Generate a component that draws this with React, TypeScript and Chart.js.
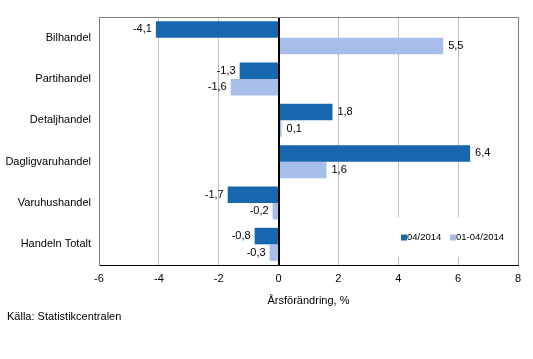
import React, { useEffect, useRef } from "react";
import { Chart, registerables } from "chart.js";

Chart.register(...registerables);

const categories = ["Bilhandel", "Partihandel", "Detaljhandel", "Dagligvaruhandel", "Varuhushandel", "Handeln Totalt"];
const seriesMonth = [-4.1, -1.3, 1.8, 6.4, -1.7, -0.8];
const seriesYtd = [5.5, -1.6, 0.1, 1.6, -0.2, -0.3];
const seriesNames = ["04/2014", "01-04/2014"];
const axisTitle = "Årsförändring, %";
const sourceText = "Källa: Statistikcentralen";

const COLORS = ["#1767af", "#a7bdea"];
const FONT = "'Liberation Sans', Arial, sans-serif";

export default function App() {
  const ref = useRef<HTMLCanvasElement>(null);
  useEffect(() => {
    document.body.style.margin = "0";
    const canvas = ref.current!;
    const extras = {
      id: "extras",
      afterDatasetsDraw(chart: any) {
        const ctx = chart.ctx;
        const area = chart.chartArea;
        const xs = chart.scales.x;
        ctx.save();
        // zero line
        const x0 = Math.round(xs.getPixelForValue(0)) + 0.5;
        ctx.strokeStyle = "#000";
        ctx.lineWidth = 1;
        ctx.beginPath();
        ctx.moveTo(x0, area.top);
        ctx.lineTo(x0, area.bottom);
        ctx.stroke();
        // top border
        ctx.strokeStyle = "#808080";
        ctx.beginPath();
        ctx.moveTo(area.left, area.top + 0.5);
        ctx.lineTo(area.right, area.top + 0.5);
        ctx.stroke();
        // labels
        ctx.font = "11px " + FONT;
        ctx.fillStyle = "#000";
        ctx.textBaseline = "middle";
        chart.data.datasets.forEach((ds: any, di: number) => {
          const meta = chart.getDatasetMeta(di);
          meta.data.forEach((el: any, i: number) => {
            const v = ds.data[i];
            const txt = String(v).replace(".", ",");
            if (v >= 0) {
              ctx.textAlign = "left";
              ctx.fillText(txt, el.x + 5, el.y);
            } else {
              ctx.textAlign = "right";
              ctx.fillText(txt, el.x - 4, el.y);
            }
          });
        });
        // axis title and source
        ctx.textAlign = "center";
        ctx.fillText(axisTitle, (area.left + area.right) / 2, 301);
        ctx.textAlign = "left";
        ctx.fillText(sourceText, 7, 317);
        // legend
        const lx = area.right - 123;
        const ly = area.bottom - 48;
        ctx.fillStyle = "#fff";
        ctx.fillRect(lx, ly, 115, 40);
        const cy = ly + 20.5;
        ctx.font = "9.5px " + FONT;
        ctx.textAlign = "left";
        const items = [
          { x: lx + 6, c: COLORS[0], t: seriesNames[0] },
          { x: lx + 55, c: COLORS[1], t: seriesNames[1] },
        ];
        items.forEach((it) => {
          ctx.fillStyle = it.c;
          ctx.fillRect(it.x, cy - 3, 6, 6);
          ctx.fillStyle = "#000";
          ctx.fillText(it.t, it.x + 6, cy);
        });
        ctx.restore();
      },
    };
    const chart = new Chart(canvas, {
      type: "bar",
      data: {
        labels: categories,
        datasets: [
          { label: seriesNames[0], data: seriesMonth, backgroundColor: COLORS[0], categoryPercentage: 0.8, barPercentage: 1.0 },
          { label: seriesNames[1], data: seriesYtd, backgroundColor: COLORS[1], categoryPercentage: 0.8, barPercentage: 1.0 },
        ],
      },
      options: {
        indexAxis: "y",
        responsive: false,
        animation: false,
        layout: { padding: { top: 17, right: 15, left: 0, bottom: 0 } },
        plugins: { legend: { display: false }, tooltip: { enabled: false } },
        scales: {
          x: {
            min: -6,
            max: 8,
            ticks: { stepSize: 2, color: "#000", padding: 7, font: { family: FONT, size: 11 } },
            grid: {
              drawTicks: false,
              color: (c: any) => (c.tick && (c.tick.value === -6 || c.tick.value === 8) ? "#808080" : c.tick && c.tick.value === 0 ? "#000" : "#c0c0c0"),
            },
            border: { color: "#000" },
            afterFit: (s: any) => { s.height = 94; },
          },
          y: {
            ticks: { color: "#000", padding: 8, font: { family: FONT, size: 11 } },
            grid: { display: false, drawTicks: false },
            border: { color: "#808080" },
            afterFit: (s: any) => { s.width = 99; },
          },
        },
      },
      plugins: [extras],
    } as any);
    return () => chart.destroy();
  }, []);
  return <canvas ref={ref} width={533} height={359} style={{ display: "block" }} />;
}
